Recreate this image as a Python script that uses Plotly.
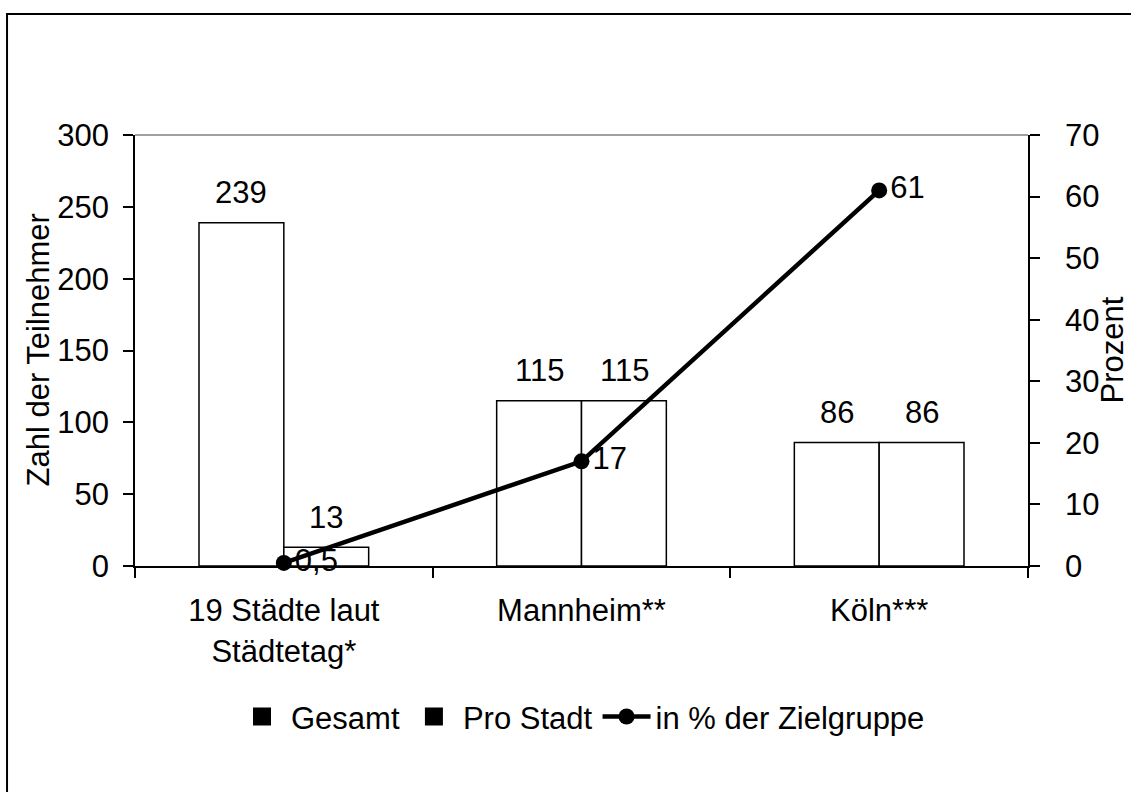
import plotly.graph_objects as go

categories = ["19 Städte laut<br>Städtetag*", "Mannheim**", "Köln***"]
gesamt = [239, 115, 86]
pro_stadt = [13, 115, 86]
prozent = [0.5, 17, 61]
prozent_labels = ["0,5", "17", "61"]
y_title_left = "Zahl der Teilnehmer"
y_title_right = "Prozent"

FONT = "Liberation Sans, Arial, sans-serif"
FS = 31

fig = go.Figure()

fig.add_trace(go.Bar(
    x=categories, y=gesamt, name="Gesamt", showlegend=False,
    marker=dict(color="white", line=dict(color="black", width=1.5)),
    hoverinfo="skip", offsetgroup="a"))
fig.add_trace(go.Bar(
    x=categories, y=pro_stadt, name="Pro Stadt", showlegend=False,
    marker=dict(color="white", line=dict(color="black", width=1.5)),
    hoverinfo="skip", offsetgroup="b"))

# legend-only entries (black swatches as in the original)
fig.add_trace(go.Scatter(x=[None], y=[None], mode="markers", name="Gesamt",
                         marker=dict(color="black", symbol="square", size=16,
                                     line=dict(color="black", width=2))))
fig.add_trace(go.Scatter(x=[None], y=[None], mode="markers", name="Pro Stadt",
                         marker=dict(color="black", symbol="square", size=16,
                                     line=dict(color="black", width=2))))

fig.add_trace(go.Scatter(
    x=categories, y=prozent, yaxis="y2", name="in % der Zielgruppe",
    mode="lines+markers+text", text=prozent_labels, textposition="middle right",
    textfont=dict(size=FS, color="black", family=FONT),
    line=dict(color="black", width=4.5),
    marker=dict(color="black", size=16), cliponaxis=False))

# bar value labels
for i, c in enumerate(categories):
    fig.add_annotation(x=c, y=gesamt[i], text=str(gesamt[i]), showarrow=False,
                       xshift=-42.5, yshift=30, yanchor="middle",
                       font=dict(size=FS, color="black", family=FONT))
    fig.add_annotation(x=c, y=pro_stadt[i], text=str(pro_stadt[i]), showarrow=False,
                       xshift=42.5, yshift=30, yanchor="middle",
                       font=dict(size=FS, color="black", family=FONT))

# axis titles
fig.add_annotation(xref="paper", yref="paper", x=-0.1086, y=0.5, text=y_title_left,
                   textangle=-90, showarrow=False, xanchor="center", yanchor="middle",
                   font=dict(size=FS, color="black", family=FONT))
fig.add_annotation(xref="paper", yref="paper", x=1.0941, y=0.5, text=y_title_right,
                   textangle=-90, showarrow=False, xanchor="center", yanchor="middle",
                   font=dict(size=FS, color="black", family=FONT))

fig.update_layout(
    width=1131, height=792,
    margin=dict(l=135, r=103, t=135, b=226, autoexpand=False),
    paper_bgcolor="white", plot_bgcolor="white",
    font=dict(family=FONT, size=FS, color="black"),
    barmode="group", bargap=0.43, bargroupgap=0,
    showlegend=True,
    legend=dict(orientation="h", x=0.5, xanchor="center", y=-0.35, yanchor="middle",
                font=dict(size=FS, color="black", family=FONT), traceorder="normal",
                itemwidth=48, itemsizing="trace"),
    xaxis=dict(type="category", tickson="boundaries", ticks="outside", ticklen=10,
               tickwidth=2, tickcolor="black", showline=True, linecolor="black",
               linewidth=2, showgrid=False, ticklabelstandoff=16,
               tickfont=dict(size=FS, color="black"), fixedrange=True),
    xaxis2=dict(overlaying="x", anchor="y", type="linear", range=[-0.5, 2.5],
                tickvals=[0.5, 1.5], ticks="inside", ticklen=10, tickwidth=2,
                tickcolor="black", showticklabels=False, showline=False,
                showgrid=False, zeroline=False),
    yaxis=dict(range=[0, 300], dtick=50, ticks="outside", ticklen=10, tickwidth=1.5,
               tickcolor="black", showline=True, linecolor="black", linewidth=1.5,
               showgrid=False, zeroline=False, ticklabelstandoff=8,
               tickfont=dict(size=FS, color="black")),
    yaxis2=dict(range=[0, 70], dtick=10, overlaying="y", side="right", anchor="x",
                ticks="outside", ticklen=10, tickwidth=1.5, tickcolor="black",
                showline=True, linecolor="black", linewidth=1.5, showgrid=False,
                zeroline=False, ticklabelstandoff=19,
                tickfont=dict(size=FS, color="black")),
    yaxis3=dict(range=[0, 300], dtick=50, overlaying="y", side="left", anchor="x",
                ticks="inside", ticklen=10, tickwidth=1.5, tickcolor="black",
                showticklabels=False, showline=False, showgrid=False, zeroline=False),
    yaxis4=dict(range=[0, 70], dtick=10, overlaying="y", side="right", anchor="x",
                ticks="inside", ticklen=10, tickwidth=1.5, tickcolor="black",
                showticklabels=False, showline=False, showgrid=False, zeroline=False),
    shapes=[
        dict(type="line", xref="paper", yref="paper", x0=0, x1=1, y0=1, y1=1,
             line=dict(color="#808080", width=1.5)),
        dict(type="rect", xref="paper", yref="paper", x0=-0.1433, x1=2.0,
             y0=-2.0, y1=1.2807, line=dict(color="black", width=2),
             fillcolor="rgba(0,0,0,0)", layer="below"),
    ],
)

fig.write_html("out.html", config={"displayModeBar": False},
               post_script="document.body.style.margin='0px';document.body.style.overflow='hidden';")
